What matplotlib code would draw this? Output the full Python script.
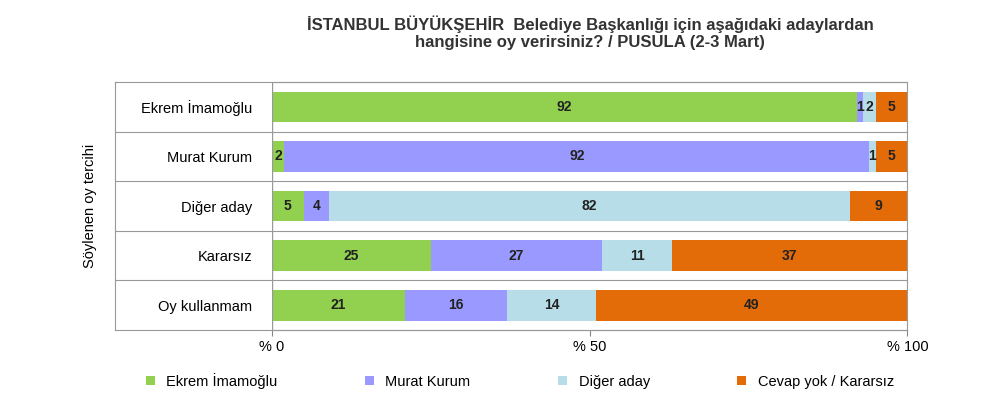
import matplotlib.pyplot as plt
import numpy as np

categories = ['Ekrem İmamoğlu', 'Murat Kurum', 'Diğer aday', 'Kararsız', 'Oy kullanmam']
series = ['Ekrem İmamoğlu', 'Murat Kurum', 'Diğer aday', 'Cevap yok / Kararsız']
imamoglu = [92, 2, 5, 25, 21]
kurum = [1, 92, 4, 27, 16]
diger = [2, 1, 82, 11, 14]
cevap = [5, 5, 9, 37, 49]
colors = ['#92D050', '#9999FF', '#B7DEE8', '#E36C09']

plt.rcParams['font.family'] = ['Liberation Sans', 'DejaVu Sans']
fig = plt.figure(figsize=(9.81, 4.15), dpi=100)
ax = fig.add_axes([0.277, 0.205, 0.648, 0.597])

y = np.arange(len(categories))
left = np.zeros(len(categories))
for name, vals, col in zip(series, [imamoglu, kurum, diger, cevap], colors):
    vals = np.array(vals)
    ax.barh(y, vals, left=left, height=0.62, color=col, label=name)
    for yi, l, v in zip(y, left, vals):
        ax.text(l + v / 2, yi, str(v), ha='center', va='center', fontsize=10, fontweight='bold', color='#222222')
    left += vals

ax.set_xlim(0, 100)
ax.set_ylim(len(categories) - 0.5, -0.5)
ax.set_yticks(y)
ax.set_yticklabels(categories, fontsize=10.5)
ax.tick_params(axis='y', length=0, pad=14)
ax.set_xticks([0, 50, 100])
ax.set_xticklabels(['% 0', '% 50', '% 100'], fontsize=10.5)
ax.tick_params(axis='x', length=4, color='#888888')
for s in ['top', 'right', 'left', 'bottom']:
    ax.spines[s].set_color('#999999')
ax.spines['left'].set_visible(False)
ax.axvline(0, color='#999999', lw=1)

# outer box lines extending left over the category labels
ext = -(272 - 115) / 635
for b in np.arange(-0.5, len(categories), 1):
    ax.plot([ext, 1], [b, b], transform=ax.get_yaxis_transform(), color='#999999', lw=0.8, clip_on=False)
ax.plot([ext, ext], [-0.5, len(categories) - 0.5], transform=ax.get_yaxis_transform(), color='#999999', lw=0.8, clip_on=False)

fig.text(90 / 981, 1 - 206 / 415, 'Söylenen oy tercihi', rotation=90, ha='center', va='center', fontsize=10.5)
fig.text(590 / 981, 1 - 33 / 415, 'İSTANBUL BÜYÜKŞEHİR  Belediye Başkanlığı için aşağıdaki adaylardan\nhangisine oy verirsiniz? / PUSULA (2-3 Mart)',
         ha='center', va='center', fontsize=12, fontweight='bold', color='#333333', linespacing=1.2)

fig.legend(loc='center', bbox_to_anchor=(0.53, 1 - 381 / 415), ncol=4, frameon=False, fontsize=10.5,
           handlelength=0.6, handleheight=0.6, columnspacing=6)
fig.savefig('out.png', dpi=100)
